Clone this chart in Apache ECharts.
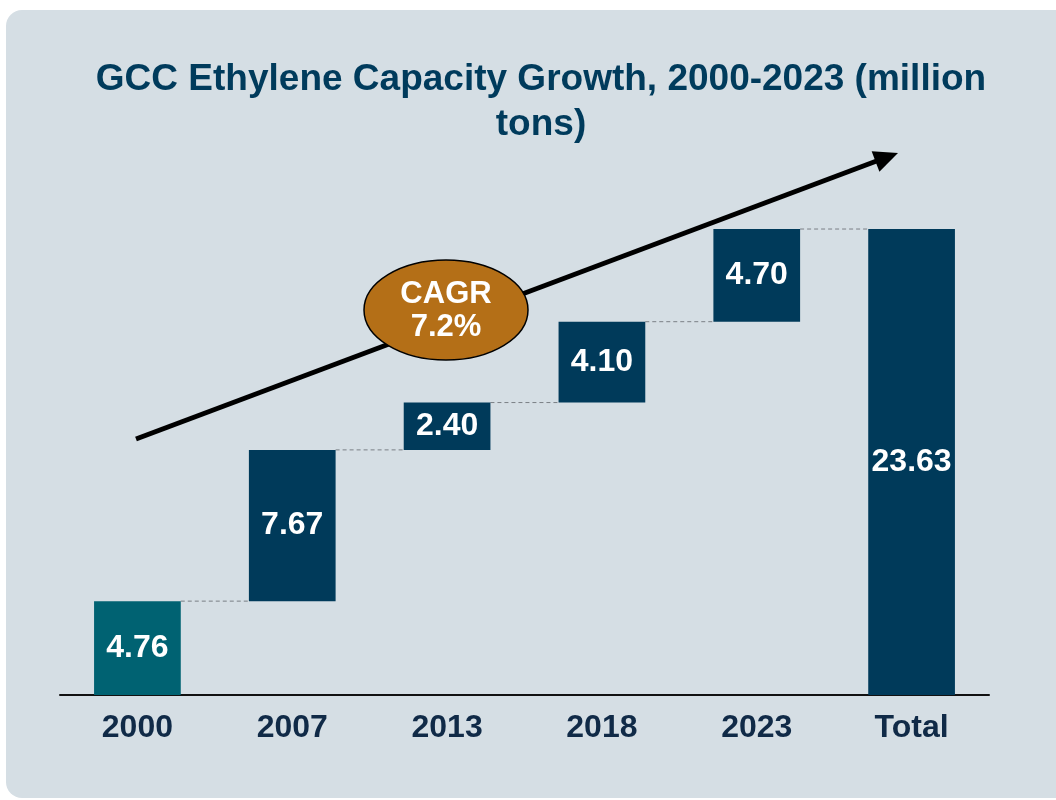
<!DOCTYPE html>
<html>
<head>
<meta charset="utf-8">
<script src="https://cdn.jsdelivr.net/npm/echarts@6/dist/echarts.min.js"></script>
<style>
html,body{margin:0;padding:0;background:#ffffff;}
#chart{width:1056px;height:800px;}
</style>
</head>
<body>
<div id="chart"></div>
<script>
const categories = ['2000', '2007', '2013', '2018', '2023', 'Total'];
const increments = [4.76, 7.67, 2.40, 4.10, 4.70, 23.63];
const isTotal = [false, false, false, false, false, true];
const titleText = 'GCC Ethylene Capacity Growth, 2000-2023 (million\ntons)';
const cagrText = 'CAGR\n7.2%';

// invisible base for waterfall
const bases = [];
let running = 0;
for (let i = 0; i < increments.length; i++) {
  if (isTotal[i]) { bases.push(0); }
  else { bases.push(running); running += increments[i]; }
}
const tops = increments.map((v, i) => bases[i] + v);

const chart = echarts.init(document.getElementById('chart'), null, {renderer: 'canvas'});

const option = {
  backgroundColor: '#ffffff',
  animation: false,
  title: {
    text: titleText,
    left: 536, top: 52, textAlign: 'center',
    textStyle: {
      fontFamily: 'Liberation Sans, Arial, sans-serif',
      fontWeight: 'bold', fontSize: 37, color: '#003b5c', lineHeight: 45
    }
  },
  grid: {left: 60, right: 67, top: 202, bottom: 105},
  xAxis: {
    type: 'category', data: categories,
    axisLine: {show: true, lineStyle: {color: '#111', width: 2}},
    axisTick: {show: false},
    axisLabel: {
      margin: 17, fontSize: 32, fontWeight: 'bold', color: '#102a47',
      fontFamily: 'Liberation Sans, Arial, sans-serif'
    }
  },
  yAxis: {type: 'value', min: 0, max: 25, show: false, splitLine: {show: false}},
  series: [
    {
      type: 'bar', stack: 'w', data: bases, barCategoryGap: '44%',
      itemStyle: {color: 'transparent'}, silent: true
    },
    {
      type: 'bar', stack: 'w',
      data: increments.map((v, i) => ({
        value: v,
        itemStyle: {color: i === 0 ? '#006272' : '#003a5a'}
      })),
      label: {
        show: true, position: 'inside', color: '#ffffff', fontSize: 32,
        fontWeight: 'bold', fontFamily: 'Liberation Sans, Arial, sans-serif',
        formatter: p => p.value.toFixed(2)
      }
    },
    {
      type: 'custom', z: 1,
      data: tops.slice(0, -1).map((t, i) => [i, t]),
      renderItem: function (params, api) {
        const i = api.value(0), t = api.value(1);
        const p1 = api.coord([i, t]);
        const p2 = api.coord([i + 1, t]);
        const bw = api.size([1, 0])[0] * 0.56;
        return {
          type: 'line',
          shape: {x1: p1[0] + bw / 2, y1: p1[1], x2: p2[0] - bw / 2, y2: p2[1]},
          style: {stroke: '#7a7f85', lineWidth: 1, lineDash: [4, 3]}
        };
      }
    }
  ]
};
chart.setOption(option);

// decorations: panel, arrow, CAGR ellipse
const sx = 136, sy = 439, ex = 898, ey = 153;
const ang = Math.atan2(ey - sy, ex - sx);
const hl = 24, hw = 11;
const bx = ex - hl * Math.cos(ang), by = ey - hl * Math.sin(ang);
const px = -Math.sin(ang), py = Math.cos(ang);
chart.setOption({
  graphic: [
    {
      type: 'rect', z: -10, silent: true,
      shape: {x: 6, y: 10, width: 1070, height: 788, r: 16},
      style: {fill: '#d5dee4'}
    },
    {
      type: 'line', z: 5,
      shape: {x1: sx, y1: sy, x2: bx + 4 * Math.cos(ang), y2: by + 4 * Math.sin(ang)},
      style: {stroke: '#000', lineWidth: 5}
    },
    {
      type: 'polygon', z: 5,
      shape: {points: [[ex, ey], [bx + px * hw, by + py * hw], [bx - px * hw, by - py * hw]]},
      style: {fill: '#000'}
    },
    {
      type: 'ellipse', z: 6,
      shape: {cx: 446, cy: 310, rx: 82, ry: 50},
      style: {fill: '#b46f17', stroke: '#000', lineWidth: 1.5}
    },
    {
      type: 'text', z: 7, x: 446, y: 311,
      style: {
        text: cagrText, fill: '#fff', align: 'center', verticalAlign: 'middle',
        fontSize: 31, fontWeight: 'bold', lineHeight: 33,
        fontFamily: 'Liberation Sans, Arial, sans-serif'
      }
    }
  ]
});
</script>
</body>
</html>
